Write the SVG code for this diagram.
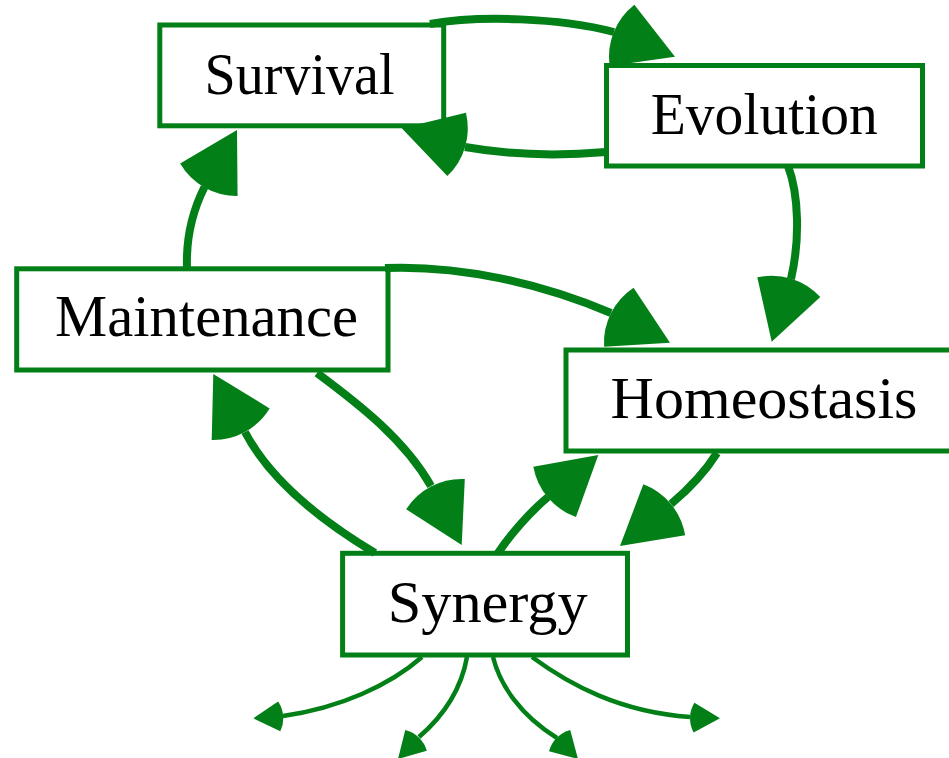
<svg xmlns="http://www.w3.org/2000/svg" xmlns:xlink="http://www.w3.org/1999/xlink" width="949" height="758" viewBox="0 0 949 758">
  <style>
    .node rect { fill: #ffffff; stroke: #037f17; stroke-width: 5; }
    .node text { font-family: "Liberation Serif", "Times New Roman", serif; font-size: 60px; fill: #000000; text-anchor: middle; }
    .edge { fill: none; stroke: #037f17; stroke-width: 8; }
    .edge.thin { stroke-width: 4.5; }
    .head { fill: #037f17; stroke: none; }
  </style>
  <defs>
    <!-- wedge arrowheads: tip at the origin, pointing along +x -->
    <path id="head" d="M0,0 L-57.16,-33 A66,66 0 0 0 -57.16,33 Z"/>
    <path id="headS" d="M0,0 L-25.98,-15 A30,30 0 0 0 -25.98,15 Z"/>
  </defs>
  <rect width="949" height="758" fill="#ffffff"/>

  <g id="nodes">
    <g id="survival" class="node">
      <rect x="159.8" y="25" width="283.9" height="100.8"/>
      <text x="299.5" y="93.5" textLength="190" lengthAdjust="spacingAndGlyphs">Survival</text>
    </g>
    <g id="evolution" class="node">
      <rect x="606.5" y="65.5" width="316" height="100.5"/>
      <text x="764.2" y="133.5" textLength="227" lengthAdjust="spacingAndGlyphs">Evolution</text>
    </g>
    <g id="maintenance" class="node">
      <rect x="16.7" y="268.8" width="371.3" height="101.2"/>
      <text x="206.5" y="336" textLength="303" lengthAdjust="spacingAndGlyphs">Maintenance</text>
    </g>
    <g id="homeostasis" class="node">
      <rect x="566" y="350" width="396" height="101"/>
      <text x="764" y="418" textLength="307" lengthAdjust="spacingAndGlyphs">Homeostasis</text>
    </g>
    <g id="synergy" class="node">
      <rect x="342.6" y="553.3" width="284.9" height="101.7"/>
      <text x="487.7" y="621.7" textLength="200" lengthAdjust="spacingAndGlyphs">Synergy</text>
    </g>
  </g>

  <g id="edges">
    <!-- Survival -> Evolution -->
    <path class="edge" d="M430,24 C480,15 560,18 614,32"/>
    <use href="#head" class="head" transform="translate(675,56.7) rotate(22)"/>
    <!-- Evolution -> Survival -->
    <path class="edge" d="M606,152 C560,156 510,155 465,147"/>
    <use href="#head" class="head" transform="translate(401.8,128.3) rotate(196.4)"/>
    <!-- Maintenance -> Survival -->
    <path class="edge" d="M187,268 C186,240 192,212 204.5,187"/>
    <use href="#head" class="head" transform="translate(237,130) rotate(-60.5)"/>
    <!-- Maintenance -> Homeostasis -->
    <path class="edge" d="M385,268 C460,265 540,283 611,313"/>
    <use href="#head" class="head" transform="translate(670,342.7) rotate(26.5)"/>
    <!-- Evolution -> Homeostasis -->
    <path class="edge" d="M788,166 C799,195 800,240 791,279"/>
    <use href="#head" class="head" transform="translate(771.7,341.7) rotate(107.4)"/>
    <!-- Maintenance -> Synergy -->
    <path class="edge" d="M317,373 C360,405 405,440 431,486"/>
    <use href="#head" class="head" transform="translate(461.7,545) rotate(62.7)"/>
    <!-- Synergy -> Maintenance -->
    <path class="edge" d="M375,553 C320,520 270,480 245,432"/>
    <use href="#head" class="head" transform="translate(213.3,374) rotate(-118.6)"/>
    <!-- Synergy -> Homeostasis -->
    <path class="edge" d="M498,553 C510,535 530,512 548,497"/>
    <use href="#head" class="head" transform="translate(598.3,455) rotate(-40.2)"/>
    <!-- Homeostasis -> Synergy -->
    <path class="edge" d="M717,453 C705,472 690,488 671,504"/>
    <use href="#head" class="head" transform="translate(620,546) rotate(140.7)"/>

    <!-- outgoing stubs below Synergy -->
    <path class="edge thin" d="M422,657 C390,685 340,708 283,716"/>
    <use href="#headS" class="head" transform="translate(253.3,718.3) rotate(175.8)"/>
    <path class="edge thin" d="M467,657 C462,685 448,712 419,737"/>
    <use href="#headS" class="head" transform="translate(398,759) rotate(134)"/>
    <path class="edge thin" d="M493,657 C500,685 520,715 557,738"/>
    <use href="#headS" class="head" transform="translate(578,759) rotate(45)"/>
    <path class="edge thin" d="M532,657 C570,685 620,712 690,717"/>
    <use href="#headS" class="head" transform="translate(720,718.3) rotate(1.5)"/>
  </g>
</svg>
